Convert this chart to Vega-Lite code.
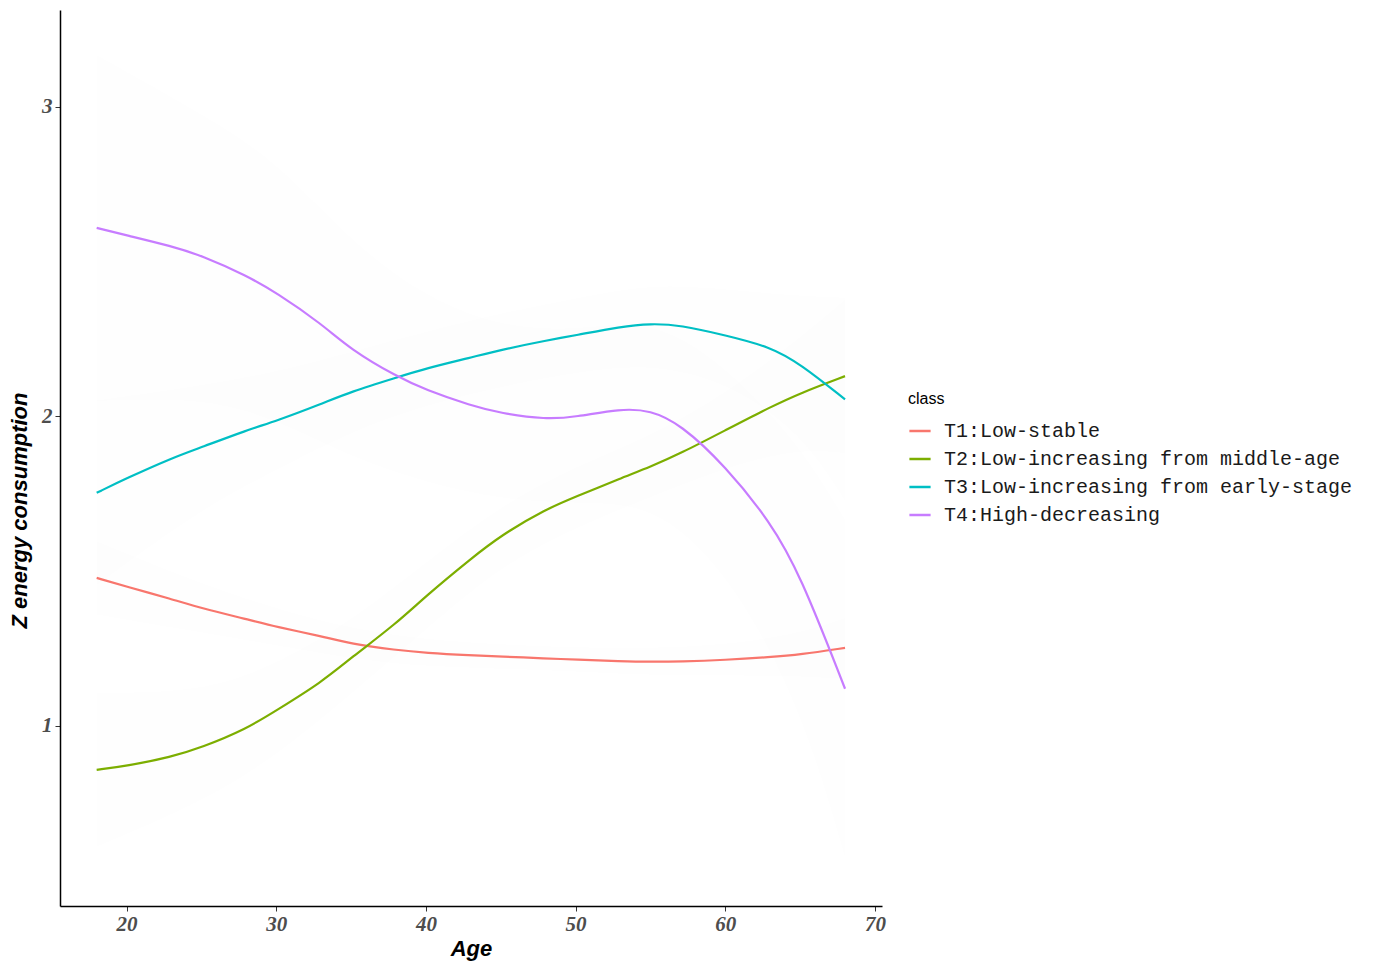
{
  "$schema": "https://vega.github.io/schema/vega-lite/v6.json",
  "width": 822,
  "height": 896,
  "autosize": {"type": "none"},
  "padding": {"left": 60, "top": 10, "right": 493, "bottom": 56},
  "background": "white",
  "config": {"view": {"stroke": null}},
  "datasets": {
    "lines": [
      {"class": "T1:Low-stable", "age": 18, "y": 1.478},
      {"class": "T1:Low-stable", "age": 20, "y": 1.45},
      {"class": "T1:Low-stable", "age": 23, "y": 1.41},
      {"class": "T1:Low-stable", "age": 25, "y": 1.38},
      {"class": "T1:Low-stable", "age": 28, "y": 1.345},
      {"class": "T1:Low-stable", "age": 30, "y": 1.32},
      {"class": "T1:Low-stable", "age": 33, "y": 1.29},
      {"class": "T1:Low-stable", "age": 35, "y": 1.265},
      {"class": "T1:Low-stable", "age": 38, "y": 1.245},
      {"class": "T1:Low-stable", "age": 40, "y": 1.236},
      {"class": "T1:Low-stable", "age": 43, "y": 1.228},
      {"class": "T1:Low-stable", "age": 45, "y": 1.224},
      {"class": "T1:Low-stable", "age": 48, "y": 1.218},
      {"class": "T1:Low-stable", "age": 50, "y": 1.214},
      {"class": "T1:Low-stable", "age": 53, "y": 1.209},
      {"class": "T1:Low-stable", "age": 55, "y": 1.207},
      {"class": "T1:Low-stable", "age": 57, "y": 1.208},
      {"class": "T1:Low-stable", "age": 60, "y": 1.213},
      {"class": "T1:Low-stable", "age": 63, "y": 1.222},
      {"class": "T1:Low-stable", "age": 65, "y": 1.23},
      {"class": "T1:Low-stable", "age": 68, "y": 1.252},
      {"class": "T2:Low-increasing from middle-age", "age": 18, "y": 0.858},
      {"class": "T2:Low-increasing from middle-age", "age": 20, "y": 0.87},
      {"class": "T2:Low-increasing from middle-age", "age": 23, "y": 0.9},
      {"class": "T2:Low-increasing from middle-age", "age": 25, "y": 0.93},
      {"class": "T2:Low-increasing from middle-age", "age": 28, "y": 0.99},
      {"class": "T2:Low-increasing from middle-age", "age": 30, "y": 1.05},
      {"class": "T2:Low-increasing from middle-age", "age": 33, "y": 1.14},
      {"class": "T2:Low-increasing from middle-age", "age": 35, "y": 1.22},
      {"class": "T2:Low-increasing from middle-age", "age": 38, "y": 1.33},
      {"class": "T2:Low-increasing from middle-age", "age": 40, "y": 1.42},
      {"class": "T2:Low-increasing from middle-age", "age": 43, "y": 1.54},
      {"class": "T2:Low-increasing from middle-age", "age": 45, "y": 1.615},
      {"class": "T2:Low-increasing from middle-age", "age": 48, "y": 1.7},
      {"class": "T2:Low-increasing from middle-age", "age": 50, "y": 1.74},
      {"class": "T2:Low-increasing from middle-age", "age": 53, "y": 1.8},
      {"class": "T2:Low-increasing from middle-age", "age": 55, "y": 1.837},
      {"class": "T2:Low-increasing from middle-age", "age": 57, "y": 1.88},
      {"class": "T2:Low-increasing from middle-age", "age": 60, "y": 1.955},
      {"class": "T2:Low-increasing from middle-age", "age": 63, "y": 2.03},
      {"class": "T2:Low-increasing from middle-age", "age": 65, "y": 2.075},
      {"class": "T2:Low-increasing from middle-age", "age": 68, "y": 2.13},
      {"class": "T3:Low-increasing from early-stage", "age": 18, "y": 1.753},
      {"class": "T3:Low-increasing from early-stage", "age": 20, "y": 1.8},
      {"class": "T3:Low-increasing from early-stage", "age": 23, "y": 1.865},
      {"class": "T3:Low-increasing from early-stage", "age": 25, "y": 1.9},
      {"class": "T3:Low-increasing from early-stage", "age": 28, "y": 1.955},
      {"class": "T3:Low-increasing from early-stage", "age": 30, "y": 1.985},
      {"class": "T3:Low-increasing from early-stage", "age": 33, "y": 2.04},
      {"class": "T3:Low-increasing from early-stage", "age": 35, "y": 2.08},
      {"class": "T3:Low-increasing from early-stage", "age": 38, "y": 2.125},
      {"class": "T3:Low-increasing from early-stage", "age": 40, "y": 2.155},
      {"class": "T3:Low-increasing from early-stage", "age": 43, "y": 2.19},
      {"class": "T3:Low-increasing from early-stage", "age": 45, "y": 2.215},
      {"class": "T3:Low-increasing from early-stage", "age": 48, "y": 2.245},
      {"class": "T3:Low-increasing from early-stage", "age": 50, "y": 2.262},
      {"class": "T3:Low-increasing from early-stage", "age": 53, "y": 2.29},
      {"class": "T3:Low-increasing from early-stage", "age": 55, "y": 2.3},
      {"class": "T3:Low-increasing from early-stage", "age": 57, "y": 2.295},
      {"class": "T3:Low-increasing from early-stage", "age": 60, "y": 2.262},
      {"class": "T3:Low-increasing from early-stage", "age": 63, "y": 2.225},
      {"class": "T3:Low-increasing from early-stage", "age": 65, "y": 2.17},
      {"class": "T3:Low-increasing from early-stage", "age": 68, "y": 2.055},
      {"class": "T4:High-decreasing", "age": 18, "y": 2.609},
      {"class": "T4:High-decreasing", "age": 20, "y": 2.585},
      {"class": "T4:High-decreasing", "age": 23, "y": 2.55},
      {"class": "T4:High-decreasing", "age": 25, "y": 2.52},
      {"class": "T4:High-decreasing", "age": 28, "y": 2.455},
      {"class": "T4:High-decreasing", "age": 30, "y": 2.4},
      {"class": "T4:High-decreasing", "age": 33, "y": 2.3},
      {"class": "T4:High-decreasing", "age": 35, "y": 2.215},
      {"class": "T4:High-decreasing", "age": 38, "y": 2.13},
      {"class": "T4:High-decreasing", "age": 40, "y": 2.085},
      {"class": "T4:High-decreasing", "age": 43, "y": 2.035},
      {"class": "T4:High-decreasing", "age": 45, "y": 2.01},
      {"class": "T4:High-decreasing", "age": 48, "y": 1.99},
      {"class": "T4:High-decreasing", "age": 50, "y": 1.998},
      {"class": "T4:High-decreasing", "age": 53, "y": 2.025},
      {"class": "T4:High-decreasing", "age": 55, "y": 2.02},
      {"class": "T4:High-decreasing", "age": 57, "y": 1.975},
      {"class": "T4:High-decreasing", "age": 60, "y": 1.84},
      {"class": "T4:High-decreasing", "age": 63, "y": 1.66},
      {"class": "T4:High-decreasing", "age": 65, "y": 1.49},
      {"class": "T4:High-decreasing", "age": 68, "y": 1.12}
    ],
    "ribbons": [
      {"class": "T1", "age": 18, "lo": 1.358, "hi": 1.598},
      {"class": "T1", "age": 25, "lo": 1.3, "hi": 1.46},
      {"class": "T1", "age": 30, "lo": 1.26, "hi": 1.38},
      {"class": "T1", "age": 35, "lo": 1.215, "hi": 1.315},
      {"class": "T1", "age": 40, "lo": 1.19, "hi": 1.28},
      {"class": "T1", "age": 45, "lo": 1.184, "hi": 1.264},
      {"class": "T1", "age": 50, "lo": 1.174, "hi": 1.254},
      {"class": "T1", "age": 55, "lo": 1.162, "hi": 1.252},
      {"class": "T1", "age": 60, "lo": 1.163, "hi": 1.263},
      {"class": "T1", "age": 65, "lo": 1.16, "hi": 1.3},
      {"class": "T1", "age": 68, "lo": 1.15, "hi": 1.35},
      {"class": "T2", "age": 18, "lo": 0.608, "hi": 1.108},
      {"class": "T2", "age": 25, "lo": 0.75, "hi": 1.11},
      {"class": "T2", "age": 30, "lo": 0.9, "hi": 1.2},
      {"class": "T2", "age": 35, "lo": 1.1, "hi": 1.34},
      {"class": "T2", "age": 40, "lo": 1.31, "hi": 1.53},
      {"class": "T2", "age": 45, "lo": 1.515, "hi": 1.715},
      {"class": "T2", "age": 50, "lo": 1.64, "hi": 1.84},
      {"class": "T2", "age": 55, "lo": 1.737, "hi": 1.937},
      {"class": "T2", "age": 60, "lo": 1.835, "hi": 2.075},
      {"class": "T2", "age": 65, "lo": 1.895, "hi": 2.255},
      {"class": "T2", "age": 68, "lo": 1.88, "hi": 2.38},
      {"class": "T3", "age": 18, "lo": 1.453, "hi": 2.053},
      {"class": "T3", "age": 25, "lo": 1.7, "hi": 2.1},
      {"class": "T3", "age": 30, "lo": 1.825, "hi": 2.145},
      {"class": "T3", "age": 35, "lo": 1.95, "hi": 2.21},
      {"class": "T3", "age": 40, "lo": 2.035, "hi": 2.275},
      {"class": "T3", "age": 45, "lo": 2.095, "hi": 2.335},
      {"class": "T3", "age": 50, "lo": 2.142, "hi": 2.382},
      {"class": "T3", "age": 55, "lo": 2.17, "hi": 2.43},
      {"class": "T3", "age": 60, "lo": 2.112, "hi": 2.412},
      {"class": "T3", "age": 65, "lo": 1.95, "hi": 2.39},
      {"class": "T3", "age": 68, "lo": 1.725, "hi": 2.385},
      {"class": "T4", "age": 18, "lo": 2.049, "hi": 3.169},
      {"class": "T4", "age": 25, "lo": 2.06, "hi": 2.98},
      {"class": "T4", "age": 30, "lo": 1.99, "hi": 2.83},
      {"class": "T4", "age": 35, "lo": 1.865, "hi": 2.565},
      {"class": "T4", "age": 40, "lo": 1.785, "hi": 2.385},
      {"class": "T4", "age": 45, "lo": 1.73, "hi": 2.29},
      {"class": "T4", "age": 50, "lo": 1.718, "hi": 2.278},
      {"class": "T4", "age": 55, "lo": 1.72, "hi": 2.32},
      {"class": "T4", "age": 60, "lo": 1.51, "hi": 2.17},
      {"class": "T4", "age": 65, "lo": 1.07, "hi": 1.91},
      {"class": "T4", "age": 68, "lo": 0.57, "hi": 1.67}
    ]
  },
  "layer": [
    {
      "data": {"name": "ribbons"},
      "mark": {"type": "area", "interpolate": "basis", "color": "#000000", "opacity": 0.004},
      "encoding": {
        "x": {"field": "age", "type": "quantitative", "scale": {"domain": [15.55, 70.47], "nice": false, "zero": false}},
        "y": {"field": "lo", "type": "quantitative", "scale": {"domain": [0.418, 3.313], "nice": false, "zero": false}},
        "y2": {"field": "hi"},
        "detail": {"field": "class"}
      }
    },
    {
      "data": {"name": "lines"},
      "mark": {"type": "line", "interpolate": "basis", "strokeWidth": 2.2},
      "encoding": {
        "x": {
          "field": "age", "type": "quantitative",
          "scale": {"domain": [15.55, 70.47], "nice": false, "zero": false},
          "axis": {
            "title": "Age", "values": [20, 30, 40, 50, 60, 70], "format": "d",
            "grid": false, "domainColor": "#000000", "domainWidth": 1.5,
            "tickColor": "#333333", "tickSize": 5, "tickWidth": 1,
            "labelFont": "Liberation Serif", "labelFontSize": 21, "labelFontStyle": "italic", "labelFontWeight": "bold", "labelColor": "#4D4D4D", "labelPadding": 2,
            "titleFont": "Liberation Sans", "titleFontSize": 22, "titleFontStyle": "italic", "titleFontWeight": "bold", "titleColor": "#000000", "titlePadding": 4
          }
        },
        "y": {
          "field": "y", "type": "quantitative",
          "scale": {"domain": [0.418, 3.313], "nice": false, "zero": false},
          "axis": {
            "title": "Z energy consumption", "values": [1, 2, 3], "format": "d",
            "grid": false, "domainColor": "#000000", "domainWidth": 1.5,
            "tickColor": "#333333", "tickSize": 5, "tickWidth": 1,
            "labelFont": "Liberation Serif", "labelFontSize": 21, "labelFontStyle": "italic", "labelFontWeight": "bold", "labelColor": "#4D4D4D", "labelPadding": 3,
            "titleFont": "Liberation Sans", "titleFontSize": 22, "titleFontStyle": "italic", "titleFontWeight": "bold", "titleColor": "#000000",
            "titleX": -29, "titleY": 500, "titleAngle": 270, "titleAlign": "center", "titleBaseline": "bottom"
          }
        },
        "color": {
          "field": "class", "type": "nominal",
          "scale": {
            "domain": ["T1:Low-stable", "T2:Low-increasing from middle-age", "T3:Low-increasing from early-stage", "T4:High-decreasing"],
            "range": ["#F8766D", "#7CAE00", "#00BFC4", "#C77CFF"]
          },
          "legend": {
            "title": "class", "orient": "none", "legendX": 848, "legendY": 381,
            "titleFont": "Liberation Sans", "titleFontSize": 16, "titleFontWeight": "normal", "titleColor": "#000000", "titlePadding": 12,
            "labelFont": "Liberation Mono", "labelFontSize": 20, "labelColor": "#1A1A1A", "labelLimit": 600,
            "symbolType": "stroke", "symbolSize": 450, "symbolStrokeWidth": 2.5,
            "rowPadding": 6, "labelOffset": 12
          }
        }
      }
    }
  ]
}
